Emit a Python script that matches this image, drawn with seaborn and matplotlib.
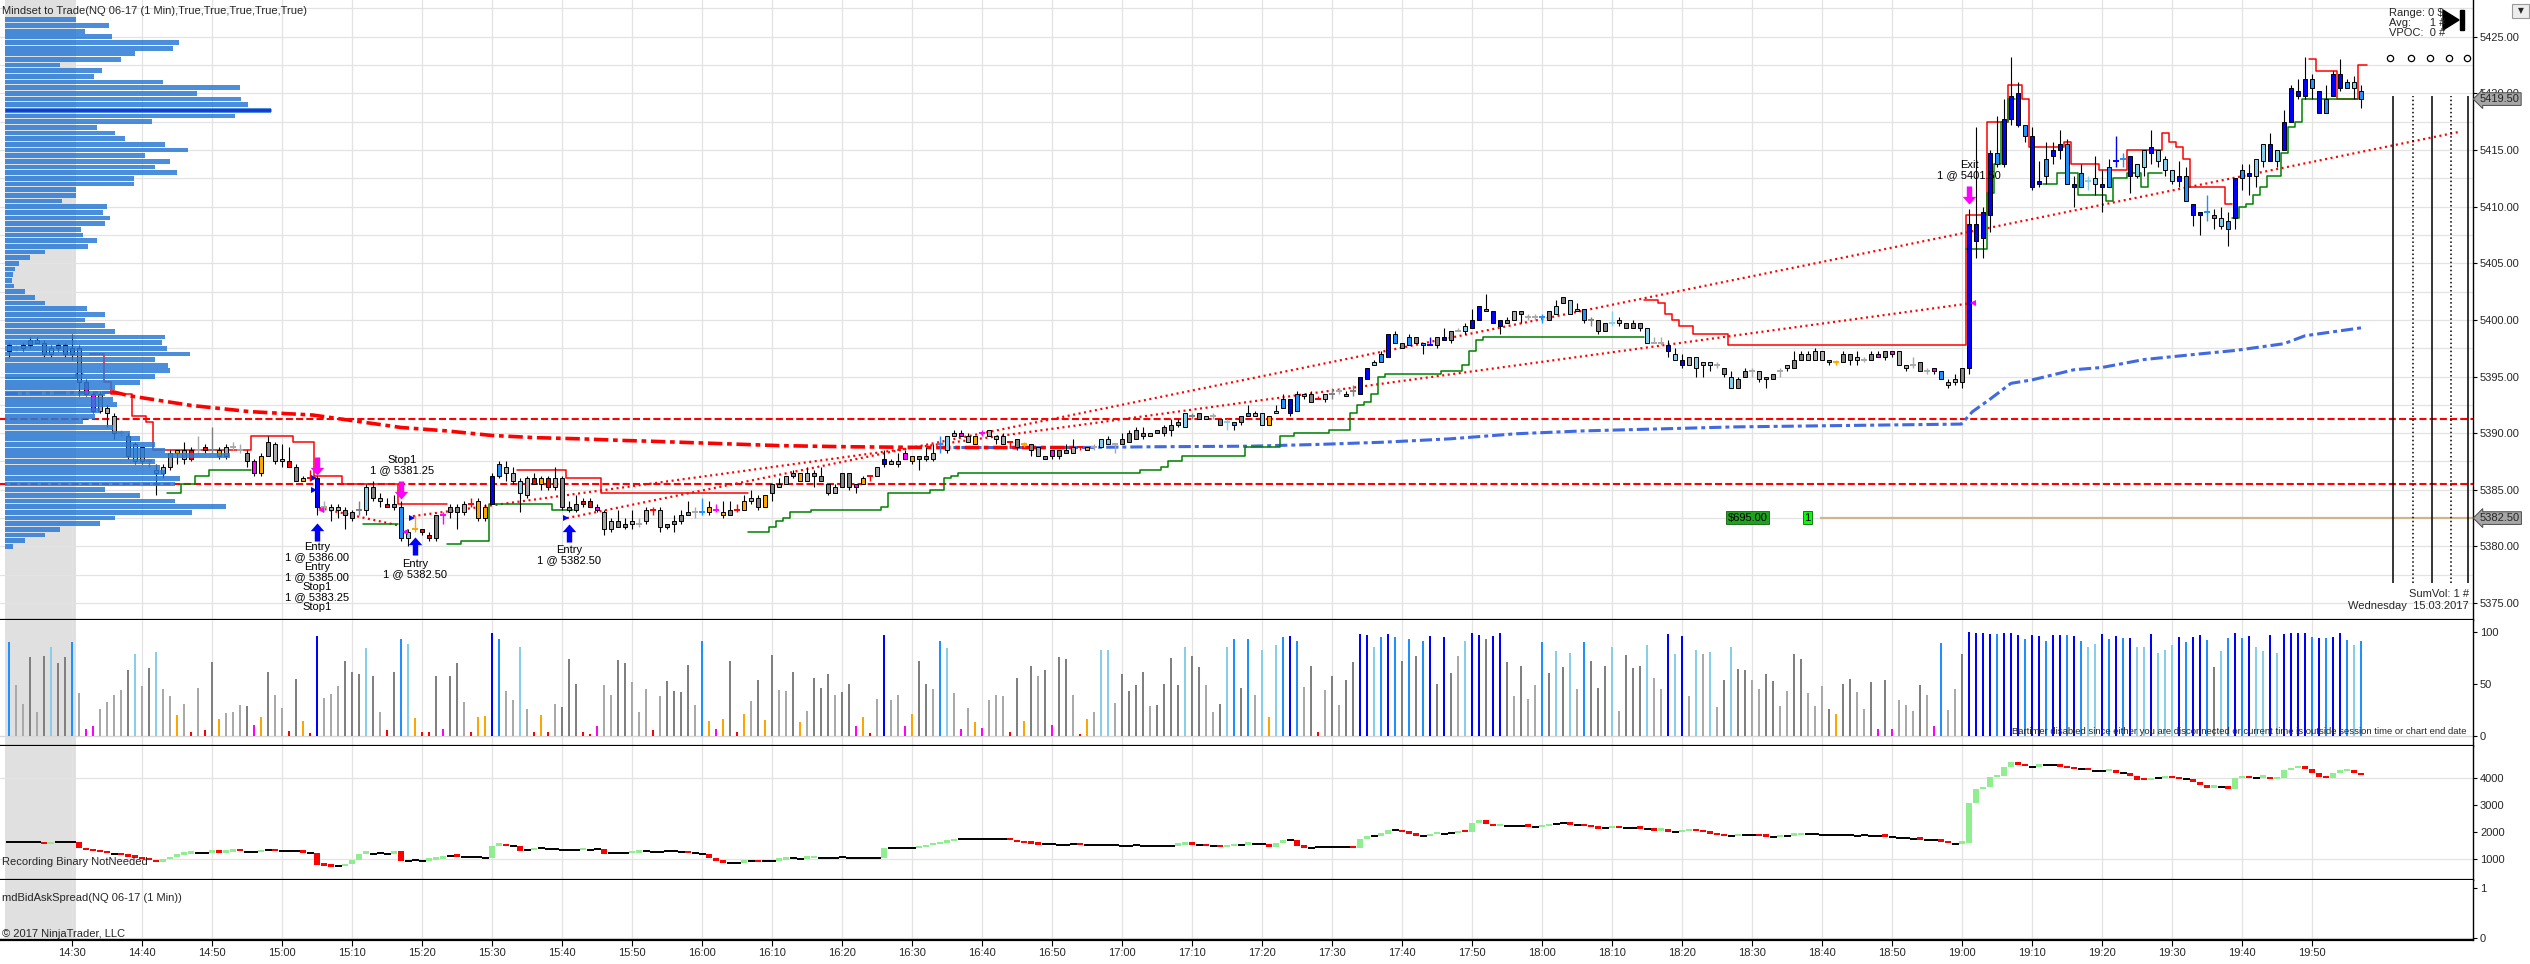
import numpy as np
import matplotlib
matplotlib.use("Agg")
import matplotlib.pyplot as plt
from matplotlib.path import Path
from matplotlib.patches import Polygon, Rectangle
import seaborn as sns

# %% one-minute bars NQ 06-17, Wednesday 15.03.2017 (bar 9 = 14:30)
opens = [5397.25, 5397.50, 5397.50, 5397.75, 5398.25, 5398.00, 5397.00, 5397.50, 5397.75, 5397.00,
         5397.50, 5394.50, 5393.50, 5392.00, 5392.25, 5391.50, 5390.00, 5389.75, 5389.00, 5387.50,
         5387.50, 5386.75, 5386.50, 5387.00, 5388.25, 5388.50, 5387.75, 5388.50, 5388.75, 5388.50,
         5388.50, 5388.00, 5388.75, 5388.50, 5388.25, 5387.50, 5386.50, 5388.00, 5389.00, 5387.75,
         5387.50, 5387.00, 5386.00, 5386.00, 5386.00, 5383.50, 5383.50, 5383.50, 5383.25, 5383.00,
         5383.25, 5383.25, 5385.25, 5384.25, 5383.75, 5383.50, 5383.50, 5380.75, 5381.50, 5381.50,
         5381.00, 5380.75, 5382.75, 5383.00, 5383.50, 5383.00, 5383.75, 5384.00, 5382.50, 5383.75,
         5386.25, 5387.00, 5386.50, 5385.75, 5384.50, 5386.00, 5385.50, 5386.00, 5385.25, 5386.00,
         5383.50, 5383.25, 5384.00, 5384.00, 5383.50, 5383.00, 5381.50, 5382.25, 5381.75, 5382.00,
         5382.00, 5382.25, 5383.25, 5383.25, 5381.75, 5382.00, 5382.25, 5382.75, 5383.00, 5383.00,
         5383.00, 5383.25, 5383.00, 5382.75, 5383.25, 5383.25, 5384.00, 5384.25, 5383.50, 5384.75,
         5385.25, 5385.50, 5386.25, 5386.50, 5385.75, 5386.50, 5386.25, 5385.50, 5384.75, 5385.25,
         5386.50, 5385.25, 5385.50, 5386.25, 5386.25, 5387.25, 5387.50, 5387.25, 5387.75, 5388.00,
         5387.75, 5388.00, 5387.75, 5389.00, 5388.50, 5389.75, 5390.00, 5389.75, 5389.00, 5390.00,
         5389.75, 5389.75, 5389.75, 5389.25, 5389.50, 5389.00, 5389.00, 5388.75, 5388.00, 5388.00,
         5388.50, 5388.25, 5388.25, 5388.75, 5388.50, 5388.75, 5388.75, 5389.00, 5389.00, 5389.00,
         5389.25, 5389.50, 5390.00, 5389.75, 5390.00, 5390.00, 5390.25, 5390.75, 5390.50, 5391.50,
         5391.75, 5391.25, 5391.50, 5391.25, 5391.00, 5390.75, 5391.00, 5391.50, 5391.75, 5391.75,
         5390.75, 5391.75, 5392.25, 5393.00, 5392.00, 5393.50, 5392.75, 5393.00, 5393.00, 5393.50,
         5393.75, 5393.25, 5393.75, 5393.50, 5394.75, 5396.00, 5396.25, 5396.75, 5398.00, 5398.00,
         5397.75, 5398.50, 5398.00, 5397.75, 5397.75, 5398.25, 5398.25, 5399.00, 5399.00, 5399.25,
         5400.00, 5401.00, 5400.75, 5400.00, 5399.75, 5400.00, 5400.75, 5400.25, 5400.25, 5400.25,
         5400.00, 5400.50, 5401.50, 5401.75, 5400.75, 5401.00, 5400.00, 5400.00, 5399.00, 5399.75,
         5399.75, 5399.75, 5399.25, 5399.75, 5399.25, 5398.00, 5398.00, 5397.75, 5397.00, 5396.50,
         5396.00, 5396.75, 5396.00, 5396.25, 5396.00, 5395.75, 5395.00, 5394.00, 5395.00, 5395.50,
         5395.50, 5394.75, 5394.75, 5395.50, 5395.75, 5395.75, 5396.50, 5397.00, 5396.50, 5397.25,
         5396.50, 5396.25, 5396.25, 5397.00, 5396.50, 5396.50, 5396.50, 5397.00, 5396.75, 5397.25,
         5397.25, 5396.00, 5396.00, 5396.25, 5395.50, 5395.75, 5395.50, 5394.50, 5394.50, 5394.50,
         5395.75, 5408.50, 5407.25, 5409.25, 5414.75, 5413.75, 5417.75, 5420.00, 5417.25, 5416.25,
         5412.00, 5412.75, 5414.50, 5415.00, 5415.50, 5412.00, 5411.75, 5412.25, 5412.00, 5412.00,
         5411.75, 5414.00, 5414.25, 5414.50, 5412.75, 5413.50, 5414.75, 5415.00, 5414.25, 5413.25,
         5412.25, 5412.75, 5410.25, 5409.25, 5409.50, 5409.25, 5409.00, 5408.00, 5409.00, 5412.50,
         5412.75, 5412.75, 5414.00, 5415.50, 5414.00, 5415.00, 5417.50, 5420.25, 5419.75, 5421.25,
         5420.25, 5418.25, 5419.75, 5421.75, 5420.50, 5421.00, 5420.25]
highs = [5398.00, 5397.75, 5398.00, 5398.50, 5398.50, 5398.25, 5397.75, 5398.00, 5398.00, 5398.75,
         5397.75, 5394.75, 5393.75, 5393.75, 5392.50, 5391.75, 5390.25, 5390.00, 5389.25, 5388.75,
         5387.75, 5387.25, 5387.25, 5388.50, 5388.50, 5389.25, 5388.75, 5389.75, 5389.00, 5390.50,
         5388.75, 5389.00, 5389.25, 5389.00, 5388.50, 5387.75, 5388.25, 5389.75, 5389.25, 5389.00,
         5388.75, 5387.25, 5386.25, 5386.75, 5386.25, 5384.00, 5383.75, 5383.75, 5383.50, 5383.25,
         5384.00, 5385.50, 5385.75, 5384.75, 5384.25, 5384.50, 5384.00, 5381.50, 5382.75, 5381.50,
         5381.25, 5382.75, 5383.00, 5383.75, 5383.75, 5384.00, 5384.25, 5384.25, 5383.75, 5386.50,
         5387.50, 5387.50, 5387.00, 5386.00, 5386.25, 5386.50, 5386.25, 5386.25, 5387.00, 5386.25,
         5384.00, 5384.50, 5384.25, 5384.25, 5383.75, 5383.25, 5382.50, 5383.25, 5382.50, 5383.25,
         5382.50, 5383.50, 5383.50, 5383.50, 5382.00, 5382.75, 5383.25, 5384.00, 5383.50, 5384.25,
         5384.00, 5383.75, 5384.00, 5384.00, 5383.75, 5384.50, 5385.00, 5384.50, 5384.50, 5385.50,
         5386.00, 5386.25, 5386.75, 5386.50, 5387.00, 5386.75, 5387.00, 5385.50, 5385.50, 5386.50,
         5386.50, 5385.50, 5386.25, 5386.25, 5387.00, 5388.50, 5387.75, 5388.25, 5388.50, 5388.00,
         5388.00, 5388.75, 5389.00, 5389.75, 5389.75, 5390.25, 5390.25, 5390.00, 5389.75, 5390.25,
         5390.25, 5389.75, 5390.00, 5389.25, 5389.50, 5389.25, 5389.00, 5388.75, 5388.00, 5388.50,
         5388.50, 5389.00, 5389.50, 5388.75, 5388.75, 5389.00, 5389.50, 5389.75, 5389.00, 5390.00,
         5390.25, 5390.50, 5390.50, 5390.00, 5390.25, 5390.75, 5391.25, 5391.25, 5391.75, 5391.75,
         5391.75, 5391.50, 5391.75, 5391.25, 5391.25, 5391.00, 5391.50, 5392.50, 5392.00, 5391.75,
         5391.50, 5392.50, 5393.50, 5393.00, 5393.75, 5393.50, 5393.75, 5393.25, 5393.50, 5394.00,
         5394.00, 5393.75, 5394.25, 5395.00, 5395.75, 5396.50, 5397.25, 5398.75, 5399.00, 5398.00,
         5398.75, 5398.50, 5398.00, 5398.50, 5398.50, 5399.25, 5399.00, 5399.25, 5399.75, 5401.00,
         5401.25, 5402.25, 5400.75, 5400.00, 5400.25, 5400.75, 5400.75, 5400.50, 5400.50, 5400.50,
         5400.75, 5401.75, 5402.00, 5401.75, 5401.50, 5401.00, 5400.25, 5400.00, 5399.75, 5400.75,
         5400.25, 5399.75, 5400.00, 5399.75, 5399.25, 5398.50, 5398.50, 5398.25, 5397.50, 5397.00,
         5396.75, 5396.75, 5396.25, 5396.25, 5396.25, 5395.75, 5395.50, 5395.00, 5395.75, 5395.75,
         5395.50, 5395.00, 5395.25, 5395.75, 5396.00, 5397.25, 5397.25, 5397.25, 5397.50, 5397.25,
         5396.50, 5396.50, 5397.25, 5397.00, 5397.25, 5396.75, 5397.25, 5397.25, 5397.25, 5397.25,
         5397.25, 5396.00, 5396.75, 5396.25, 5395.75, 5395.75, 5395.50, 5394.75, 5395.25, 5395.75,
         5409.75, 5417.00, 5410.00, 5415.00, 5418.00, 5419.50, 5423.25, 5421.00, 5417.25, 5417.00,
         5414.00, 5415.75, 5415.75, 5416.75, 5416.00, 5412.75, 5413.75, 5412.75, 5414.50, 5413.25,
         5414.25, 5416.25, 5414.75, 5414.50, 5413.75, 5415.00, 5416.75, 5415.00, 5414.50, 5413.25,
         5414.00, 5413.50, 5410.25, 5409.50, 5411.00, 5409.75, 5410.00, 5409.50, 5412.50, 5413.75,
         5413.75, 5414.25, 5415.50, 5416.50, 5415.00, 5418.50, 5420.75, 5421.25, 5423.25, 5421.75,
         5420.25, 5420.75, 5422.00, 5423.00, 5421.25, 5421.50, 5420.75]
lows = [5396.75, 5397.25, 5397.25, 5397.50, 5398.00, 5396.75, 5396.75, 5397.25, 5396.75, 5396.50,
        5393.25, 5393.25, 5391.75, 5391.75, 5390.50, 5389.50, 5389.75, 5387.75, 5387.25, 5387.25,
        5387.00, 5384.50, 5386.00, 5386.75, 5387.25, 5387.25, 5387.50, 5388.25, 5388.25, 5388.25,
        5387.75, 5387.75, 5388.50, 5388.25, 5387.00, 5386.25, 5386.25, 5388.00, 5387.25, 5387.00,
        5387.00, 5385.75, 5385.75, 5385.75, 5382.75, 5383.00, 5382.25, 5382.50, 5381.50, 5382.25,
        5382.75, 5382.75, 5384.00, 5383.50, 5383.50, 5383.25, 5380.50, 5380.00, 5381.25, 5381.00,
        5380.50, 5380.50, 5382.00, 5382.50, 5381.50, 5382.75, 5383.50, 5382.25, 5382.25, 5383.75,
        5386.00, 5385.75, 5385.50, 5383.00, 5384.25, 5385.50, 5385.00, 5385.00, 5385.00, 5383.25,
        5383.00, 5383.00, 5383.50, 5383.50, 5383.00, 5381.00, 5381.25, 5381.75, 5381.50, 5381.50,
        5381.75, 5382.00, 5382.75, 5381.25, 5381.50, 5381.25, 5382.00, 5382.75, 5382.50, 5382.75,
        5382.75, 5383.00, 5382.50, 5382.75, 5383.00, 5383.25, 5383.75, 5383.25, 5383.50, 5384.00,
        5385.25, 5385.50, 5386.00, 5385.75, 5385.75, 5385.25, 5385.75, 5384.50, 5384.75, 5385.25,
        5385.00, 5384.75, 5385.50, 5385.75, 5386.25, 5387.00, 5387.25, 5387.00, 5387.75, 5387.25,
        5386.75, 5387.50, 5387.50, 5388.25, 5388.25, 5389.75, 5389.75, 5389.25, 5389.00, 5389.75,
        5389.75, 5389.00, 5389.00, 5388.75, 5388.50, 5388.75, 5388.00, 5388.00, 5387.75, 5387.75,
        5387.75, 5388.25, 5388.25, 5388.50, 5388.50, 5388.50, 5388.75, 5389.00, 5388.25, 5389.00,
        5389.25, 5389.50, 5389.50, 5389.75, 5390.00, 5389.75, 5389.75, 5390.50, 5390.50, 5391.25,
        5391.25, 5391.25, 5391.25, 5390.75, 5390.25, 5390.25, 5390.75, 5391.50, 5391.50, 5390.75,
        5390.75, 5391.75, 5392.25, 5391.50, 5392.00, 5393.00, 5392.75, 5393.00, 5392.75, 5393.00,
        5393.50, 5393.25, 5393.25, 5393.50, 5394.75, 5396.00, 5396.25, 5396.75, 5398.00, 5397.50,
        5397.75, 5398.00, 5397.00, 5397.75, 5397.50, 5398.25, 5398.00, 5399.00, 5398.75, 5399.25,
        5400.00, 5400.75, 5399.75, 5398.75, 5399.75, 5400.00, 5399.75, 5400.00, 5400.00, 5399.75,
        5400.00, 5400.50, 5401.50, 5400.50, 5400.75, 5399.75, 5399.50, 5398.75, 5399.00, 5399.50,
        5399.50, 5399.25, 5399.25, 5399.00, 5398.00, 5398.00, 5397.75, 5396.75, 5396.50, 5395.75,
        5396.00, 5395.00, 5395.00, 5395.50, 5395.75, 5395.00, 5394.00, 5394.00, 5395.00, 5395.00,
        5394.50, 5394.00, 5394.75, 5395.00, 5395.50, 5395.75, 5396.50, 5396.50, 5396.50, 5396.50,
        5396.00, 5396.00, 5396.25, 5396.00, 5396.00, 5396.25, 5396.50, 5396.75, 5396.50, 5396.75,
        5396.00, 5395.50, 5395.75, 5395.50, 5395.25, 5395.25, 5394.75, 5394.00, 5394.25, 5394.00,
        5395.25, 5405.50, 5405.50, 5407.75, 5413.50, 5413.50, 5417.25, 5417.00, 5415.75, 5411.50,
        5411.75, 5412.00, 5413.75, 5414.25, 5412.00, 5410.00, 5411.75, 5411.50, 5411.00, 5409.50,
        5411.75, 5413.50, 5413.50, 5411.25, 5412.50, 5412.75, 5413.75, 5413.50, 5412.75, 5412.00,
        5411.75, 5410.50, 5408.25, 5407.50, 5408.75, 5408.00, 5408.00, 5406.50, 5408.00, 5411.50,
        5411.00, 5411.75, 5413.50, 5414.00, 5413.50, 5415.00, 5417.50, 5419.50, 5419.50, 5419.50,
        5418.25, 5418.25, 5419.75, 5420.25, 5420.50, 5419.50, 5418.75]
closes = [5397.75, 5397.50, 5397.75, 5398.25, 5398.00, 5397.00, 5397.50, 5397.75, 5397.00, 5397.50,
          5394.50, 5393.50, 5392.00, 5393.50, 5391.75, 5390.00, 5390.00, 5388.00, 5387.50, 5388.75,
          5387.50, 5386.50, 5387.00, 5388.25, 5388.50, 5387.75, 5388.50, 5388.50, 5388.50, 5388.50,
          5388.00, 5388.75, 5388.75, 5388.50, 5387.50, 5386.50, 5388.00, 5389.25, 5387.50, 5387.50,
          5387.00, 5385.75, 5385.75, 5386.00, 5383.50, 5383.50, 5383.25, 5383.25, 5382.75, 5382.50,
          5383.25, 5385.25, 5384.25, 5384.00, 5383.50, 5383.75, 5380.75, 5381.25, 5381.50, 5381.25,
          5380.75, 5382.75, 5382.75, 5383.50, 5383.00, 5383.75, 5383.75, 5382.50, 5383.50, 5386.25,
          5387.25, 5386.50, 5385.75, 5384.75, 5386.00, 5385.50, 5386.00, 5385.25, 5386.00, 5383.50,
          5383.25, 5383.75, 5383.75, 5383.50, 5383.25, 5381.50, 5382.25, 5381.75, 5382.00, 5382.25,
          5382.00, 5383.25, 5383.25, 5381.75, 5382.00, 5382.25, 5382.75, 5383.00, 5383.00, 5383.00,
          5383.50, 5383.25, 5382.75, 5383.25, 5383.25, 5384.00, 5384.25, 5383.50, 5384.50, 5385.50,
          5385.50, 5386.25, 5386.50, 5385.75, 5386.50, 5386.25, 5385.75, 5384.75, 5385.25, 5386.50,
          5385.25, 5385.50, 5386.00, 5386.25, 5387.00, 5387.75, 5387.25, 5387.50, 5388.25, 5387.50,
          5388.00, 5387.75, 5388.25, 5389.00, 5389.75, 5390.00, 5389.75, 5389.25, 5389.75, 5390.00,
          5390.25, 5389.50, 5389.00, 5389.25, 5388.75, 5389.00, 5388.50, 5388.00, 5387.75, 5388.50,
          5388.00, 5388.50, 5388.75, 5388.75, 5388.75, 5388.75, 5389.50, 5389.50, 5389.00, 5389.50,
          5390.00, 5390.25, 5389.75, 5390.00, 5390.25, 5390.50, 5390.75, 5391.00, 5391.75, 5391.50,
          5391.25, 5391.50, 5391.50, 5390.75, 5391.00, 5391.00, 5391.50, 5391.75, 5391.50, 5390.75,
          5391.50, 5392.00, 5393.00, 5391.75, 5393.50, 5393.25, 5393.50, 5393.00, 5393.50, 5393.50,
          5393.75, 5393.50, 5393.75, 5395.00, 5395.75, 5396.25, 5397.00, 5398.75, 5398.75, 5397.50,
          5398.50, 5398.00, 5397.75, 5397.75, 5398.50, 5398.50, 5399.00, 5399.00, 5399.50, 5400.00,
          5401.25, 5400.75, 5399.75, 5399.50, 5400.00, 5400.75, 5400.50, 5400.25, 5400.25, 5400.25,
          5400.75, 5401.25, 5402.00, 5400.50, 5401.00, 5400.00, 5400.00, 5399.00, 5399.75, 5399.75,
          5400.00, 5399.25, 5399.75, 5399.25, 5398.00, 5398.00, 5398.00, 5397.25, 5396.50, 5396.00,
          5396.75, 5395.75, 5396.25, 5396.00, 5396.00, 5395.25, 5394.00, 5394.75, 5395.50, 5395.50,
          5394.75, 5395.00, 5395.25, 5395.50, 5396.00, 5396.50, 5397.00, 5396.50, 5397.25, 5396.50,
          5396.25, 5396.25, 5397.00, 5396.50, 5396.75, 5396.50, 5397.00, 5396.75, 5397.25, 5397.00,
          5396.00, 5395.75, 5396.00, 5395.50, 5395.50, 5395.50, 5394.75, 5394.25, 5394.75, 5395.75,
          5408.50, 5407.00, 5409.50, 5414.75, 5413.75, 5417.75, 5419.75, 5417.25, 5416.25, 5411.75,
          5412.25, 5414.25, 5415.00, 5415.50, 5412.00, 5411.75, 5413.00, 5412.25, 5412.50, 5411.75,
          5413.50, 5414.00, 5414.25, 5412.75, 5413.75, 5415.00, 5415.25, 5414.00, 5413.25, 5412.25,
          5412.75, 5410.50, 5409.25, 5409.50, 5409.50, 5409.00, 5408.25, 5408.75, 5412.50, 5413.25,
          5413.00, 5414.25, 5415.50, 5414.00, 5415.00, 5417.50, 5420.50, 5419.75, 5421.25, 5420.50,
          5418.25, 5419.50, 5421.75, 5420.50, 5421.00, 5420.50, 5419.50]

# bar colour codes (same for candle and volume bar)
bar_colors = ("DLLGLGSGGD" "LMMLLLLGSL" "GSLLOLRLRG" "OLLLGMOGLL" "RGORBLLLGG"
              "GSGLRGDSOR" "RGMGGLROOB" "DLLSLRORLG" "GGRRMLLGGL" "LLRLGGGGLD"
              "OMOGROLGOG" "LLGOLGGGLG" "GMORLBLLMO" "GGLDSLMLOM" "LLLRGOGLGM"
              "GGLROLSSLG" "GGGLGGGGSG" "GLLGSDGDLS" "OSDBDLGRLG" "LGGBBSDBDG"
              "DGDBGBGLSB" "BGBBGLGLLD" "GSGSLDGGGS" "LGGGSLLBSB" "LSLSLGSGGL"
              "LGGLLGGLLL" "GOGGLLGMGM" "LLLGLMDLLG" "BBBBDBBBDB" "BDBBDBDSSB"
              "DBDBSSBSSS" "BDBBDGSDBD" "BSSBSBBBBD" "BDBBDSD")

volume = [90, 49, 31, 76, 23, 77, 86, 70, 76, 90, 41, 7, 10, 26, 33, 39, 44, 63, 79, 48,
          65, 81, 45, 38, 20, 31, 4, 46, 6, 71, 16, 22, 23, 30, 29, 11, 18, 62, 39, 27,
          5, 55, 14, 3, 96, 37, 40, 48, 72, 62, 60, 85, 58, 23, 6, 62, 93, 88, 17, 4,
          4, 58, 7, 58, 70, 33, 4, 18, 19, 99, 93, 43, 35, 86, 26, 4, 20, 4, 31, 28,
          74, 50, 4, 2, 10, 49, 39, 73, 70, 52, 23, 45, 6, 38, 53, 43, 42, 68, 30, 91,
          14, 7, 16, 72, 4, 21, 34, 54, 15, 78, 44, 43, 62, 13, 24, 56, 46, 60, 39, 42,
          50, 10, 18, 3, 36, 97, 35, 39, 10, 21, 72, 50, 45, 91, 85, 41, 7, 27, 13, 8,
          35, 39, 38, 4, 56, 14, 67, 58, 63, 11, 76, 74, 39, 2, 16, 23, 83, 83, 32, 60,
          43, 49, 62, 29, 30, 50, 75, 49, 86, 77, 66, 49, 23, 31, 86, 93, 46, 93, 39, 83,
          18, 87, 95, 96, 91, 47, 67, 4, 44, 58, 30, 54, 71, 98, 97, 86, 95, 98, 95, 72,
          93, 77, 91, 96, 50, 95, 61, 77, 91, 99, 97, 93, 96, 99, 71, 38, 67, 36, 49, 90,
          61, 82, 66, 80, 45, 90, 72, 46, 67, 86, 24, 78, 65, 67, 87, 56, 45, 98, 79, 96,
          38, 83, 79, 81, 28, 54, 86, 64, 63, 54, 45, 60, 53, 29, 43, 79, 74, 41, 29, 48,
          26, 21, 50, 55, 42, 26, 52, 7, 54, 7, 35, 30, 24, 49, 39, 10, 89, 25, 45, 79,
          100, 99, 99, 98, 98, 99, 99, 97, 93, 97, 96, 91, 97, 97, 97, 96, 91, 86, 88, 98,
          93, 96, 94, 94, 86, 86, 98, 80, 83, 87, 95, 90, 95, 97, 92, 66, 82, 94, 99, 94,
          96, 86, 82, 97, 80, 98, 99, 99, 99, 95, 94, 94, 95, 99, 92, 87, 91]

# "Recording Binary NotNeeded" panel, value at bar close
delta = [1650, 1650, 1640, 1640, 1630, 1560, 1640, 1640, 1650, 1650,
         1400, 1340, 1290, 1260, 1220, 1200, 1160, 1100, 1060, 1000,
         960, 900, 1000, 1100, 1170, 1200, 1230, 1230, 1250, 1280,
         1250, 1280, 1320, 1290, 1270, 1260, 1340, 1360, 1300, 1310,
         1290, 1310, 1250, 1250, 790, 760, 720, 740, 830, 960,
         1200, 1230, 1210, 1220, 1200, 1300, 950, 940, 960, 950,
         990, 1020, 1120, 1140, 1100, 1090, 1070, 1080, 1060, 1500,
         1530, 1490, 1480, 1320, 1340, 1380, 1400, 1390, 1370, 1360,
         1340, 1330, 1370, 1360, 1370, 1210, 1220, 1230, 1220, 1250,
         1280, 1290, 1270, 1280, 1300, 1290, 1280, 1230, 1220, 1200,
         1050, 950, 880, 860, 880, 910, 930, 900, 920, 940,
         980, 1030, 1040, 1020, 1050, 1080, 1060, 1040, 1050, 1070,
         1050, 1030, 1040, 1030, 1030, 1400, 1410, 1400, 1420, 1400,
         1440, 1530, 1560, 1620, 1660, 1720, 1740, 1750, 1750, 1750,
         1750, 1750, 1740, 1700, 1640, 1600, 1570, 1540, 1550, 1550,
         1530, 1540, 1560, 1530, 1530, 1540, 1530, 1540, 1520, 1510,
         1500, 1520, 1510, 1500, 1500, 1510, 1500, 1540, 1570, 1540,
         1520, 1490, 1480, 1440, 1480, 1520, 1540, 1600, 1580, 1560,
         1460, 1600, 1720, 1700, 1500, 1430, 1420, 1440, 1440, 1460,
         1470, 1460, 1400, 1770, 1860, 1880, 1940, 2100, 2080, 2000,
         1950, 1880, 1860, 1920, 1960, 1950, 1960, 2040, 2010, 2360,
         2460, 2290, 2220, 2250, 2250, 2240, 2230, 2200, 2190, 2230,
         2310, 2320, 2330, 2280, 2260, 2220, 2180, 2130, 2150, 2190,
         2150, 2160, 2170, 2140, 2120, 2060, 2090, 2020, 2000, 2030,
         2060, 2030, 2000, 1950, 1890, 1860, 1850, 1880, 1900, 1900,
         1860, 1830, 1820, 1850, 1870, 1900, 1940, 1930, 1920, 1910,
         1890, 1900, 1910, 1890, 1880, 1890, 1880, 1860, 1830, 1820,
         1800, 1780, 1770, 1730, 1720, 1700, 1650, 1600, 1580, 1620,
         3070, 3600, 3660, 4050, 4100, 4400, 4600, 4480, 4450, 4430,
         4470, 4490, 4500, 4430, 4380, 4340, 4330, 4300, 4280, 4260,
         4290, 4200, 4180, 4100, 3950, 3920, 3980, 4000, 4050, 4000,
         3970, 3960, 3850, 3760, 3650, 3700, 3680, 3620, 4000, 4060,
         4000, 4020, 4050, 3960, 4000, 4300, 4380, 4460, 4330, 4180,
         4030, 4000, 4200, 4270, 4300, 4200, 4110]

time_labels = ['14:30', '14:40', '14:50', '15:00', '15:10', '15:20', '15:30', '15:40', '15:50',
               '16:00', '16:10', '16:20', '16:30', '16:40', '16:50', '17:00', '17:10', '17:20',
               '17:30', '17:40', '17:50', '18:00', '18:10', '18:20', '18:30', '18:40', '18:50',
               '19:00', '19:10', '19:20', '19:30', '19:40', '19:50']

# volume profile (rows every 0.5 pt from 5426.50 down), length in px
prof_size = [71, 104, 80, 107, 174, 168, 130, 116, 55, 97, 89, 158, 235, 192, 236, 243, 266, 230,
             147, 92, 110, 120, 160, 183, 140, 165, 150, 172, 129, 129, 71, 71, 57, 102, 98, 105,
             100, 76, 78, 92, 83, 40, 25, 14, 10, 8, 7, 9, 20, 30, 40, 82, 100, 80, 100, 110,
             160, 157, 162, 185, 150, 163, 165, 150, 135, 110, 100, 108, 112, 95, 90, 78, 108,
             125, 135, 150, 160, 225, 150, 155, 160, 175, 170, 100, 135, 170, 221, 187, 110, 95,
             55, 40, 20, 8]
poc_price = 5418.5

# trailing bands: (from bar, to bar, level)
upper_steps = [(11.5, 13.5, 5397.0), (13.5, 14.5, 5394.5), (14.5, 17.5, 5393.5), (17.5, 19.5, 5391.5),
               (19.5, 20.5, 5391.0), (20.5, 34.5, 5388.5), (34.5, 40.5, 5389.75), (40.5, 43.5, 5389.25),
               (43.5, 47.5, 5386.25), (47.5, 55.5, 5385.5), (55.5, 62.5, 5383.75),
               (72.5, 79.5, 5386.75), (79.5, 84.5, 5386.0), (84.5, 105.5, 5384.75),
               (233.5, 235.5, 5401.75), (235.5, 236.5, 5401.5), (236.5, 237.5, 5400.5),
               (237.5, 238.5, 5400.0), (238.5, 240.5, 5399.5), (240.5, 245.5, 5398.75),
               (245.5, 279.5, 5397.75), (279.5, 282.5, 5409.25), (282.5, 285.5, 5417.5),
               (285.5, 287.5, 5420.75), (287.5, 288.5, 5419.5), (288.5, 293.5, 5415.25),
               (293.5, 294.5, 5415.75), (294.5, 298.5, 5413.75), (298.5, 302.5, 5413.25),
               (302.5, 307.5, 5415.0), (307.5, 308.5, 5416.5), (308.5, 309.5, 5415.75),
               (309.5, 310.5, 5415.25), (310.5, 311.5, 5414.25), (311.5, 316.5, 5411.75),
               (316.5, 317.5, 5410.25),
               (328.5, 329.5, 5423.0), (329.5, 332.5, 5422.0), (332.5, 335.5, 5419.5),
               (335.5, 336.9, 5422.5)]
lower_steps = [(-0.5, 9.5, 5394.9), (9.5, 10.5, 5395.25),
               (22.5, 24.5, 5384.75), (24.5, 26.5, 5385.5), (26.5, 28.5, 5386.25), (28.5, 34.5, 5386.75),
               (50.5, 55.5, 5382.0),
               (62.5, 64.5, 5380.25), (64.5, 68.5, 5380.5), (68.5, 77.5, 5383.75), (77.5, 80.5, 5383.25),
               (105.5, 108.5, 5381.25), (108.5, 109.5, 5381.75), (109.5, 110.5, 5382.25),
               (110.5, 111.5, 5382.5), (111.5, 114.5, 5383.0), (114.5, 124.5, 5383.25),
               (124.5, 125.5, 5383.5), (125.5, 131.5, 5384.75), (131.5, 133.5, 5385.0),
               (133.5, 134.5, 5386.0), (134.5, 135.5, 5386.25), (135.5, 161.5, 5386.5),
               (161.5, 164.5, 5386.75), (164.5, 165.5, 5387.0), (165.5, 167.5, 5387.5),
               (167.5, 176.5, 5388.0), (176.5, 181.5, 5388.75), (181.5, 183.5, 5389.75),
               (183.5, 188.5, 5390.0), (188.5, 191.5, 5390.25), (191.5, 192.5, 5391.75),
               (192.5, 193.5, 5392.5), (193.5, 194.5, 5392.75), (194.5, 195.5, 5393.5),
               (195.5, 196.5, 5395.0), (196.5, 204.5, 5395.25), (204.5, 207.5, 5395.5),
               (207.5, 208.5, 5396.0), (208.5, 209.5, 5397.25), (209.5, 210.5, 5398.25),
               (210.5, 233.5, 5398.5),
               (279.5, 282.5, 5406.25), (282.5, 283.5, 5411.25), (283.5, 284.5, 5413.75),
               (284.5, 285.5, 5417.5), (285.5, 286.5, 5419.5),
               (290.5, 292.5, 5412.0), (292.5, 295.5, 5413.0), (295.5, 299.5, 5411.0),
               (299.5, 300.5, 5410.5), (300.5, 302.5, 5412.5), (302.5, 304.5, 5413.0),
               (304.5, 305.5, 5411.75), (305.5, 307.5, 5413.0),
               (317.5, 318.5, 5409.0), (318.5, 319.5, 5410.0), (319.5, 320.5, 5410.25),
               (320.5, 321.5, 5411.0), (321.5, 322.5, 5411.75), (322.5, 324.5, 5412.75),
               (324.5, 325.5, 5414.75), (325.5, 326.5, 5417.0), (326.5, 327.5, 5417.5),
               (327.5, 335.5, 5419.5)]

# session VWAP (red part, then blue)
vwap_pre_bar = [-0.5, 14.7]
vwap_pre_val = [5393.5, 5393.6]
vwap_red_bar = [14.7, 17.2, 26, 34.4, 43.4, 49.7, 56, 62.5, 68.9, 75.3, 81.6, 88, 91, 100.5, 110,
                119.6, 132.6, 152.6]
vwap_red_val = [5393.67, 5393.3, 5392.45, 5391.9, 5391.6, 5391.05, 5390.5, 5390.2, 5389.8, 5389.6,
                5389.5, 5389.35, 5389.3, 5389.1, 5388.9, 5388.8, 5388.73, 5388.73]
vwap_blue_bar = [132.6, 152.6, 164, 177.3, 186.8, 196.3, 205.9, 215.4, 224.9, 237.3, 246.3, 265.4,
                 278.9, 280.5, 283, 286, 289, 295, 299, 305, 313, 318, 325, 328, 336]
vwap_blue_val = [5388.73, 5388.73, 5388.8, 5388.85, 5389.0, 5389.2, 5389.5, 5389.95, 5390.2, 5390.4,
                 5390.55, 5390.7, 5390.8, 5391.9, 5393.0, 5394.4, 5394.7, 5395.6, 5395.8, 5396.5,
                 5397.0, 5397.3, 5397.9, 5398.6, 5399.3]

levels = [5391.25, 5385.5]          # dashed red levels
position_price = 5382.5             # open position line

# executions
trade_lines = [((44.3, 5383.4), (56.0, 5381.8)),
               ((57.7, 5382.67), (280.6, 5401.5)),
               ((79.7, 5382.5), (350.0, 5416.6))]
buy_marks = [(43.6, 5386.0), (43.6, 5385.0), (57.6, 5382.5), (79.6, 5382.5)]
sell_marks = [(44.5, 5383.25), (56.5, 5381.25), (280.5, 5401.5)]
entry_arrows = [(44, 5381.3), (58, 5380.0), (80, 5381.2)]
exit_arrows = [(44, 5387.1), (56, 5385.0), (280, 5411.0)]
exec_labels = [(44, 5380.4, "Entry\n1 @ 5386.00\nEntry\n1 @ 5385.00\nStop1\n1 @ 5383.25\nStop1"),
               (56.1, 5388.1, "Stop1\n1 @ 5381.25"),
               (58, 5378.9, "Entry\n1 @ 5382.50"),
               (80, 5380.1, "Entry\n1 @ 5382.50"),
               (280, 5414.1, "Exit\n1 @ 5401.50")]

palette = {'G': '#808080', 'L': '#A9A9A9', 'S': '#87CEEB', 'D': '#1E90FF', 'B': '#0000FF',
           'M': '#FF00FF', 'O': '#FFA500', 'R': '#FF0000'}

# %% figure
sns.set_theme(style='white')
plt.rcParams['font.family'] = ['Liberation Sans', 'DejaVu Sans']
FS = 8
plt.rcParams['font.size'] = FS

W, H = 2530, 964
fig = plt.figure(figsize=(W / 100, H / 100), dpi=100)


def panel(top, bottom):
    return fig.add_axes([0, 1 - bottom / H, 2473 / W, (bottom - top) / H])


ax = panel(0, 620)
axv = panel(620, 746)
axd = panel(746, 880)
axs = panel(880, 940)

n = min(len(opens), len(highs), len(lows), len(closes), len(volume), len(delta), len(bar_colors))
x = np.arange(n)
o, h, l, c = (np.array(v[:n], float) for v in (opens, highs, lows, closes))
cols = np.array([palette[k] for k in bar_colors[:n]])
tick_pos = 9 + 10 * np.arange(len(time_labels))

for a in (ax, axv, axd, axs):
    a.set_xlim(-1.286, 352.0)
    a.set_facecolor('white')
    a.axvspan(-0.57, 9.57, color='#E0E0E0', zorder=0, lw=0)
    for t in tick_pos:
        a.axvline(t, color='#E3E3E3', lw=0.9, zorder=0.5)
    a.yaxis.tick_right()
    a.tick_params(axis='y', which='both', length=3, width=0.8, color='black', pad=2,
                  labelsize=FS, direction='out', right=True, left=False)
    for s in ('top', 'left'):
        a.spines[s].set_visible(False)
    a.spines['right'].set_color('black')
    a.spines['right'].set_linewidth(1.0)
    a.spines['bottom'].set_color('black')
    a.spines['bottom'].set_linewidth(1.6)
    a.set_xticks(tick_pos)
    a.tick_params(axis='x', length=0, labelbottom=False)
    a.grid(False)

# ---- price panel
ax.set_ylim(5373.5, 5428.25)
for g in np.arange(5375, 5428, 2.5):
    ax.axhline(g, color='#E3E3E3', lw=0.9, zorder=0.5)
ax.set_yticks(np.arange(5375, 5426, 5))
ax.set_yticklabels([f'{v:.2f}' for v in np.arange(5375, 5426, 5)])

for lv in levels:
    ax.axhline(lv, color='#FF0000', lw=1.5, ls=(0, (3.4, 1.5)), zorder=2)

sns.lineplot(x=vwap_pre_bar, y=vwap_pre_val, ax=ax, color='#4169E1', lw=2.2, sort=False,
             estimator=None, linestyle=(0, (4, 1.3, 1.3, 1.3)), zorder=3)
sns.lineplot(x=vwap_blue_bar, y=vwap_blue_val, ax=ax, color='#4169E1', lw=2.2, sort=False,
             estimator=None, linestyle=(0, (4, 1.3, 1.3, 1.3)), zorder=3)
sns.lineplot(x=vwap_red_bar, y=vwap_red_val, ax=ax, color='#FF0000', lw=2.6, sort=False,
             estimator=None, linestyle=(0, (4, 1.3, 1.3, 1.3)), zorder=3.1)

for (x0, y0), (x1, y1) in trade_lines:
    ax.plot([x0, x1], [y0, y1], color='#FF0000', lw=1.6, ls=(0, (0.9, 1.6)), zorder=3.2)


def step_xy(steps):
    xs, ys, prev = [], [], None
    for s, e, lv in steps:
        if prev is not None and abs(s - prev) > 1e-6:
            xs.append(np.nan)
            ys.append(np.nan)
        xs += [s, e]
        ys += [lv, lv]
        prev = e
    return xs, ys


ux, uy = step_xy(upper_steps)
lx, ly = step_xy(lower_steps)
ax.plot(ux, uy, color='#FF0000', lw=1.1, zorder=4)
ax.plot(lx, ly, color='#008000', lw=1.1, zorder=4.1)

ax.hlines(position_price, 258.7, 352, color='#D2B48C', lw=1.6, zorder=2)

# candles
body = ~(o == c)
ax.vlines(x[body], l[body], h[body], color='black', lw=0.8, zorder=5)
ax.bar(x[body], np.abs(c - o)[body], bottom=np.minimum(o, c)[body], width=0.62,
       color=cols[body], edgecolor='black', linewidth=0.7, zorder=5.5)
dj = ~body
ax.vlines(x[dj], l[dj], h[dj], colors=cols[dj], lw=1.0, zorder=5)
ax.hlines(c[dj], x[dj] - 0.38, x[dj] + 0.38, colors=cols[dj], lw=1.4, zorder=5)

# volume profile over the first bars
prof_levels = 5426.5 - 0.5 * np.arange(len(prof_size))
ax.barh(prof_levels, np.array(prof_size) / 7.0, left=-0.57, height=0.42, color='#2B7BD6',
        alpha=0.85, edgecolor='none', zorder=6)
ax.hlines(poc_price, -0.57, -0.57 + 266 / 7.0, color='#1A35D0', lw=2.0, zorder=6.5)

# executions
arrow_up = Path([(0, 1), (-0.75, 0.15), (-0.3, 0.15), (-0.3, -1), (0.3, -1), (0.3, 0.15),
                 (0.75, 0.15), (0, 1)],
                [Path.MOVETO] + [Path.LINETO] * 6 + [Path.CLOSEPOLY])
arrow_dn = Path(arrow_up.vertices * [1, -1], arrow_up.codes)
ax.plot(*zip(*entry_arrows), ls='none', marker=arrow_up, ms=13, color='#0000FF', mew=0, zorder=7)
ax.plot(*zip(*exit_arrows), ls='none', marker=arrow_dn, ms=13, color='#FF00FF', mew=0, zorder=7)
ax.plot(*zip(*buy_marks), ls='none', marker='>', ms=5, color='#0000FF', mew=0, zorder=7)
ax.plot(*zip(*sell_marks), ls='none', marker='<', ms=5, color='#FF00FF', mew=0, zorder=7)
for bx, by, txt in exec_labels:
    ax.text(bx, by, txt, ha='center', va='top', fontsize=FS, linespacing=1.0,
            color='black', zorder=8, clip_on=True)

# PnL tag
ax.text(248.4, 5382.55, '$695.00', ha='center', va='center', fontsize=FS, color='black', zorder=8,
        bbox=dict(boxstyle='square,pad=0.15', fc='#1FA01F', ec='#0E600E', lw=0.6))
ax.text(256.9, 5382.55, '1', ha='center', va='center', fontsize=FS, color='black', zorder=8,
        bbox=dict(boxstyle='square,pad=0.15', fc='#00FF00', ec='#0E600E', lw=0.6))

# right side session markers
for bx, st in zip([340.6, 343.4, 346.1, 348.9, 351.3], ['-', ':', '-', ':', '-']):
    ax.vlines(bx, 5376.8, 5419.8, color='black', lw=1.1, ls=st, zorder=4)
ax.plot([340.1, 343.1, 345.9, 348.6, 351.1], [5423.1] * 5, ls='none', marker='o', ms=4.5,
        mfc='none', mec='black', mew=0.9, zorder=7)

# price tags on the axis
for pv in (5419.5, position_price):
    ax.annotate(f'{pv:.2f}', xy=(1.0, pv), xycoords=('axes fraction', 'data'),
                xytext=(5, 0), textcoords='offset points', ha='left', va='center', fontsize=FS,
                annotation_clip=False, zorder=20,
                bbox=dict(boxstyle='larrow,pad=0.12', fc='#A6A6A6', ec='#4A4A4A', lw=0.7))

# ---- volume panel
axv.set_ylim(-9.6, 111.5)
axv.axhline(0, color='#D8D8D8', lw=1.0, zorder=1)
axv.bar(x, np.array(volume[:n]), width=0.42, color=cols, edgecolor='none', zorder=3)
axv.set_yticks([0, 50, 100])
axv.set_yticklabels(['0', '50', '100'])

# ---- recording panel
d = np.array(delta[:n], float)
prev = np.r_[d[0], d[:-1]]
chg = d - prev
up, dn = chg > 25, chg < -25
fl = ~(up | dn)
lo_b = np.minimum(prev, d)
hi_b = np.maximum(prev, d)
hgt = np.maximum(hi_b - lo_b, 90)
axd.set_ylim(233, 5196)
for g in (1000, 4000):
    axd.axhline(g, color='#E3E3E3', lw=0.9, zorder=0.5)
axd.bar(x[up], hgt[up], bottom=lo_b[up], width=0.72, color='#90EE90', edgecolor='none', zorder=3)
axd.bar(x[dn], hgt[dn], bottom=lo_b[dn], width=0.72, color='#FF0000', edgecolor='none', zorder=3)
axd.hlines(d[fl], x[fl] - 0.5, x[fl] + 0.5, color='black', lw=1.4, zorder=3)
axd.set_yticks([1000, 2000, 3000, 4000])
axd.set_yticklabels(['1000', '2000', '3000', '4000'])

# ---- spread panel
axs.set_ylim(-0.046, 1.154)
axs.axhline(0, color='#E3E3E3', lw=0.9, zorder=0.5)
axs.set_yticks([0, 1])
axs.set_yticklabels(['0', '1'])
axs.set_xticks(tick_pos)
axs.set_xticklabels(time_labels)
axs.tick_params(axis='x', length=4, width=0.8, color='black', direction='out',
                labelbottom=True, labelsize=FS, pad=2, bottom=True)


# ---- texts
def fx(px):
    return px / W


def fy(py):
    return 1 - py / H


fig.text(fx(2), fy(11), 'Mindset to Trade(NQ 06-17 (1 Min),True,True,True,True,True)',
         ha='left', va='center', fontsize=FS)
fig.text(fx(2), fy(862), 'Recording Binary NotNeeded', ha='left', va='center', fontsize=FS)
fig.text(fx(2), fy(898), 'mdBidAskSpread(NQ 06-17 (1 Min))', ha='left', va='center', fontsize=FS)
fig.text(fx(2), fy(934), '\u00a9 2017 NinjaTrader, LLC', ha='left', va='center', fontsize=FS)
fig.text(fx(2467), fy(732), 'Bartimer disabled since either you are disconnected or current time '
         'is outside session time or chart end date', ha='right', va='center', fontsize=6.8)
fig.text(fx(2389), fy(8), 'Range: 0 $\nAvg:      1 #\nVPOC:  0 #', ha='left', va='top',
         fontsize=FS, linespacing=1.0)
fig.text(fx(2469), fy(594), 'SumVol: 1 #', ha='right', va='center', fontsize=FS)
fig.text(fx(2469), fy(606), 'Wednesday  15.03.2017', ha='right', va='center', fontsize=FS)

# play / bar-timer glyph and the little menu button
fig.add_artist(Polygon([(fx(2443), fy(10)), (fx(2443), fy(30)), (fx(2459), fy(20))],
                       closed=True, color='black', transform=fig.transFigure))
fig.add_artist(Rectangle((fx(2460), fy(30)), fx(4), 20 / H, color='black', transform=fig.transFigure))
fig.add_artist(Rectangle((fx(2512), fy(18)), fx(17), 14 / H, fc='#EDEDED', ec='#9A9A9A', lw=0.8,
                         transform=fig.transFigure))
fig.text(fx(2520.5), fy(11), '\u25bc', ha='center', va='center', fontsize=5.5,
         family='DejaVu Sans')

fig.savefig('out.png', dpi=100)
